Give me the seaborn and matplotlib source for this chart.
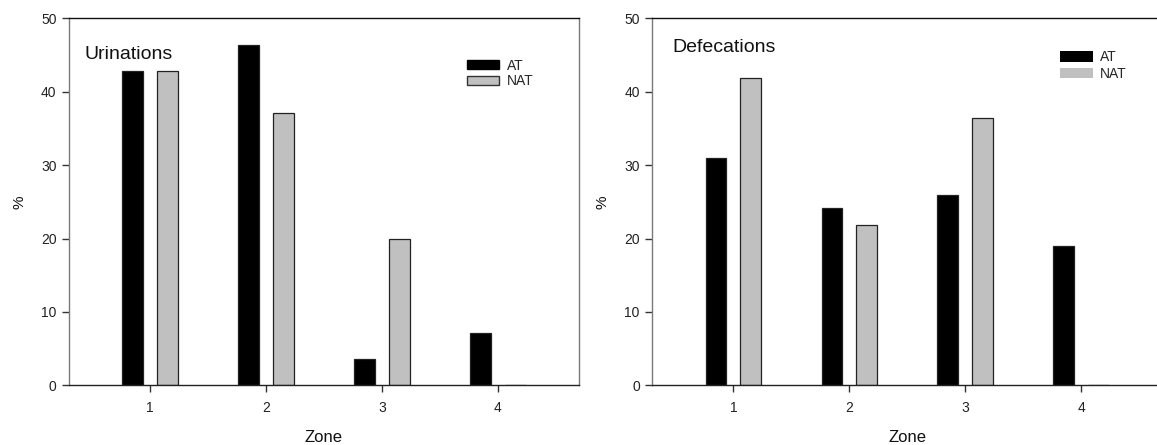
import matplotlib
matplotlib.use("Agg")
import matplotlib.pyplot as plt
from matplotlib.patches import Patch
import pandas as pd
import seaborn as sns

zones = ["1", "2", "3", "4"]
groups = ["AT", "NAT"]

urin_at = [42.86, 46.43, 3.57, 7.14]
urin_nat = [42.86, 37.14, 20.0, 0.0]

defec_at = [31.0, 24.2, 25.9, 19.0]
defec_nat = [41.8, 21.8, 36.4, 0.0]

panel_titles = ["Urinations", "Defecations"]
y_ticks = [0, 10, 20, 30, 40, 50]

sns.set_theme(style="white")
plt.rcParams["font.family"] = ["Liberation Sans", "DejaVu Sans"]

W, H = 1157, 445
fig = plt.figure(figsize=(W / 100, H / 100), dpi=100)


def frame(x0, y_top, w, h):
    return [x0 / W, (H - y_top - h) / H, w / W, h / H]


ax_u = fig.add_axes(frame(69, 18.3, 510, 367))
ax_d = fig.add_axes(frame(652.3, 18.3, 510, 367))

bar_colors = {"AT": "#000000", "NAT": "#c0c0c0"}


def long_table(at, nat):
    return pd.DataFrame({
        "Zone": zones * 2,
        "group": ["AT"] * len(zones) + ["NAT"] * len(zones),
        "pct": list(at) + list(nat),
    })


panels = [
    (ax_u, long_table(urin_at, urin_nat), panel_titles[0]),
    (ax_d, long_table(defec_at, defec_nat), panel_titles[1]),
]

for ax, df, title in panels:
    sns.barplot(data=df, x="Zone", y="pct", hue="group", order=zones,
                hue_order=groups, palette=bar_colors, width=0.6, gap=0.4,
                edgecolor="#222222", linewidth=0.9, legend=False, ax=ax)
    ax.set_xlim(-0.7, 3.7)
    ax.set_ylim(0, 50)
    ax.set_yticks(y_ticks)
    ax.set_yticklabels([str(t) for t in y_ticks])
    ax.set_xlabel("Zone", fontsize=12, color="#111111")
    ax.set_ylabel("%", fontsize=11, color="#111111")
    ax.xaxis.set_label_coords(0.5, -0.123)
    ax.yaxis.set_label_coords(-0.083, 0.5)
    ax.tick_params(axis="both", direction="out", length=5, width=1,
                   color="#333333", labelsize=10, labelcolor="#222222",
                   bottom=True, left=True)
    ax.tick_params(axis="x", pad=6)
    ax.tick_params(axis="y", pad=4)
    ax.spines["top"].set_color("#111111")
    ax.spines["bottom"].set_color("#222222")
    ax.spines["left"].set_color("#7a7a7a")
    ax.spines["right"].set_color("#7a7a7a")
    for s in ax.spines.values():
        s.set_linewidth(1.0)

ax_u.text(0.030, 0.89, panel_titles[0], transform=ax_u.transAxes,
          fontsize=14, va="baseline", ha="left", color="#111111")
ax_d.text(0.0386, 0.908, panel_titles[1], transform=ax_d.transAxes,
          fontsize=14, va="baseline", ha="left", color="#111111")

left_handles = [
    Patch(facecolor="#000000", edgecolor="#000000", label="AT"),
    Patch(facecolor="#c0c0c0", edgecolor="#333333", label="NAT"),
]
ax_u.legend(handles=left_handles, loc="upper left",
            bbox_to_anchor=(0.78, 0.89), frameon=False, fontsize=10,
            handlelength=2.3, handleheight=0.65, handletextpad=0.6,
            labelspacing=0.1, borderpad=0, borderaxespad=0)

right_handles = [
    Patch(facecolor="#000000", edgecolor="none", label="AT"),
    Patch(facecolor="#c0c0c0", edgecolor="none", label="NAT"),
]
ax_d.legend(handles=right_handles, loc="upper left",
            bbox_to_anchor=(0.799, 0.913), frameon=False, fontsize=10,
            handlelength=2.4, handleheight=0.76, handletextpad=0.5,
            labelspacing=0.2, borderpad=0, borderaxespad=0)

fig.savefig("out.png", dpi=100)
